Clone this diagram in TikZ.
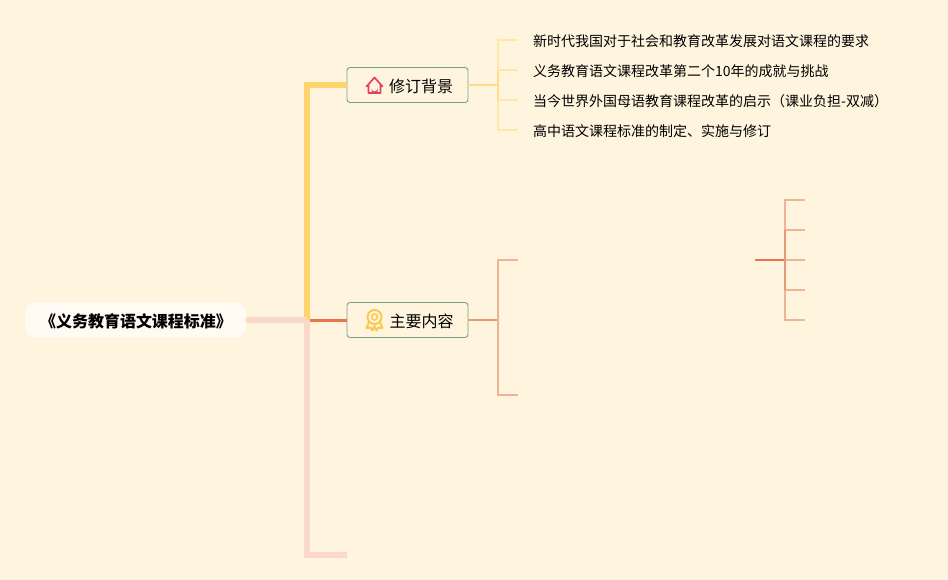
\documentclass[tikz,border=0pt]{standalone}
\usepackage{fontspec}
\setmainfont{Noto Sans CJK SC}
\definecolor{bgc}{HTML}{FFF5DF}
\definecolor{trunkY}{HTML}{FFD36E}
\definecolor{trunkP}{HTML}{FBD9CA}
\definecolor{orangeL}{HTML}{E8734C}
\definecolor{leafY}{HTML}{FFE7AC}
\definecolor{midY}{HTML}{FFDD88}
\definecolor{leafO}{HTML}{EDB596}
\definecolor{midO}{HTML}{E69A78}
\definecolor{boxG}{HTML}{6FA58A}
\definecolor{houseR}{HTML}{E2405C}
\definecolor{medalY}{HTML}{FBC94F}
\tikzset{
  x=1pt,y=-1pt,
  rootbox/.style={fill=white!60!bgc,rounded corners=10pt,minimum width=221pt,minimum height=35pt,inner sep=0pt},
  branchbox/.style={draw=boxG,line width=0.9pt,fill=bgc,rounded corners=3pt,minimum width=121pt,minimum height=35pt,inner sep=0pt},
  leaftext/.style={anchor=west,inner sep=0pt,font=\fontsize{14}{14}\selectfont,text=black},
  branchtext/.style={anchor=west,inner sep=0pt,font=\fontsize{16}{16}\selectfont,text=black},
  thick trunk/.style={line width=6pt,line join=miter},
  yleaf/.style={draw=leafY,line width=1.8pt},
  oleaf/.style={draw=leafO,line width=1.8pt},
}
\begin{document}
\begin{tikzpicture}
\useasboundingbox (0,0) rectangle (948,580);
\fill[bgc] (0,0) rectangle (948,580);
% nodes
\node[rootbox] (root) at (135.5,320) {};
\node[inner sep=0pt,font=\fontsize{16}{16}\selectfont\bfseries,text=black] (roottext) at (136,321) {《义务教育语文课程标准》};
\node[branchbox] (bone) at (407.5,85) {};
\node[branchbox] (btwo) at (407.5,320) {};
\node[branchtext] (bonet) at (389,86) {修订背景};
\node[branchtext] (btwot) at (389.5,321) {主要内容};
\node[leaftext] (l1) at (533,41.5) {新时代我国对于社会和教育改革发展对语文课程的要求};
\node[leaftext] (l2) at (533,71.5) {义务教育语文课程改革第二个10年的成就与挑战};
\node[leaftext] (l3) at (533,101.5) {当今世界外国母语教育课程改革的启示（课业负担-双减）};
\node[leaftext] (l4) at (533,131.5) {高中语文课程标准的制定、实施与修订};
% free ends
\coordinate (jt) at (307,320);
\coordinate (ja) at (498,85);
\coordinate (a1) at (518,40);
\coordinate (a2) at (518,70);
\coordinate (a3) at (518,100);
\coordinate (a4) at (518,130);
\coordinate (jb) at (498,320);
\coordinate (b1) at (518,260);
\coordinate (b2) at (518,395);
\coordinate (cs) at (755,260);
\coordinate (jc) at (785,260);
\coordinate (c1) at (805,200);
\coordinate (c2) at (805,230);
\coordinate (c3) at (805,260);
\coordinate (c4) at (805,290);
\coordinate (c5) at (805,320);
\coordinate (pe) at (347,555);
% trunks
\draw[trunkP,thick trunk] (root.east) -- (jt) -- (jt |- pe) -- (pe);
\draw[trunkY,thick trunk] (jt) -- (jt |- bone) -- (bone.west);
\draw[trunkP,thick trunk] (root.east) -- (jt);
\draw[orangeL,line width=3pt] (310,320) -- (btwo.west);
% first bracket
\draw[midY,line width=2pt] (bone.east) -- (ja);
\draw[yleaf] (a1) -- (ja |- a1) -- (ja |- a4) -- (a4);
\draw[yleaf] (ja |- a2) -- (a2);
\draw[yleaf] (ja |- a3) -- (a3);
\draw[midY,line width=1.8pt] (ja |- a2) -- (ja |- a3);
% second bracket
\draw[midO,line width=2pt] (btwo.east) -- (jb);
\draw[oleaf] (b1) -- (jb |- b1) -- (jb |- b2) -- (b2);
% third bracket
\draw[orangeL,line width=2pt] (cs) -- (jc);
\draw[oleaf] (c1) -- (jc |- c1) -- (jc |- c5) -- (c5);
\draw[oleaf] (jc |- c2) -- (c2);
\draw[oleaf] (jc) -- (c3);
\draw[oleaf] (jc |- c4) -- (c4);
\draw[midO,line width=2pt] (jc |- c2) -- (jc |- c4);
% house icon
\draw[houseR,line width=1.7pt,line join=round,line cap=round] (366.5,86.5) -- (374.5,77.5) -- (382.5,86.5) (368.5,85) -- (368.5,93) -- (380.5,93) -- (380.5,85);
\fill[houseR] (371.5,93.5) -- (371.5,88.5) arc[start angle=180,end angle=0,radius=3pt,y radius=-3pt] -- (377.5,93.5) -- cycle;
% medal icon
\draw[medalY,line width=2pt,line join=round,fill=bgc] (369,322) -- (366.5,328) -- (370.5,327.5) -- (372.5,330.5) -- (374.5,326) -- (376.5,330.5) -- (378.5,327.5) -- (382.5,328) -- (380,322);
\fill[bgc,draw=medalY,line width=2pt] (374.5,317) circle[radius=7pt];
\draw[medalY,line width=1.6pt] (374.5,317) circle[radius=3pt];
\end{tikzpicture}
\end{document}
